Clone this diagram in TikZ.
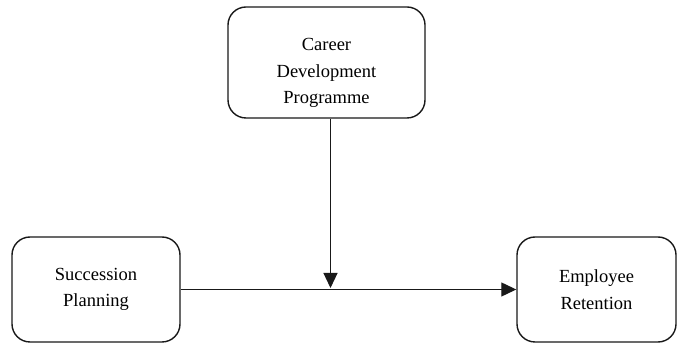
\documentclass[tikz,border=0pt]{standalone}
\usepackage{fontspec}
\setmainfont{Liberation Serif}
\usetikzlibrary{arrows.meta,positioning,calc}
\tikzstyle{factor} = [rectangle, rounded corners=18pt, line width=1.4pt, draw=black!90, align=center, font=\fontsize{18.5}{26.5}\selectfont, inner sep=0pt]
\tikzstyle{arrow} = [line width=1.2pt, draw=black!90, -{Triangle[length=15pt,width=14pt]}]

\begin{document}
\begin{tikzpicture}[x=1pt,y=-1pt]
\useasboundingbox (0,0) rectangle (678,344);
\node (cdp) [factor, minimum width=197pt, minimum height=111pt] at (326.5,62.5) {\rule{0pt}{34pt}Career\\Development\\Programme};
\node (sp) [factor, minimum width=168pt, minimum height=105pt] at (96,289.5) {Succession\\Planning};
\node (er) [factor, minimum width=159pt, minimum height=105pt] at (596.5,289.5) {Employee\\Retention};
\coordinate (mid) at ([xshift=4pt]cdp.south |- sp.east);

\draw [arrow] (sp) -- (er);
\draw [arrow, shorten >=1.5pt] (cdp.south -| mid) -- (mid);
\end{tikzpicture}
\end{document}
